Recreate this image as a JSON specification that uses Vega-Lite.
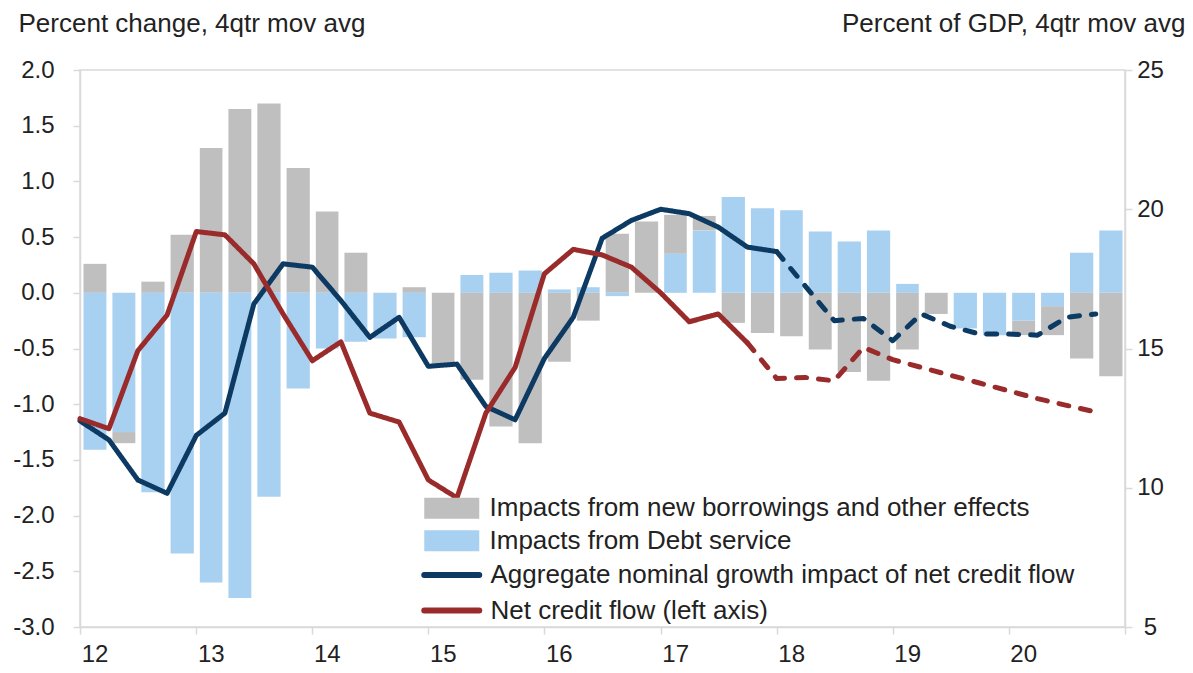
{
  "$schema": "https://vega.github.io/schema/vega-lite/v6.json",
  "width": 1045,
  "height": 557,
  "autosize": "none",
  "padding": {"left": 80, "top": 70, "right": 68, "bottom": 46},
  "background": "white",
  "config": {
    "font": "Liberation Sans",
    "view": {"stroke": "#D9D9D9", "strokeWidth": 1.5},
    "axis": {
      "domainColor": "#D9D9D9", "domainWidth": 1.5,
      "tickColor": "#D9D9D9", "tickWidth": 1.5, "tickSize": 7,
      "grid": false,
      "labelFont": "Liberation Sans", "labelFontSize": 24, "labelColor": "#222222",
      "titleFont": "Liberation Sans", "titleFontSize": 26, "titleFontWeight": "normal", "titleColor": "#222222"
    },
    "legend": {"labelFont": "Liberation Sans", "labelFontSize": 26, "labelColor": "#222222", "labelLimit": 900, "padding": 0, "offset": 0}
  },
  "datasets": {
    "bars": [
      {"d": "2012-01-01", "s": "Impacts from new borrowings and other effects", "v": 0.26},
      {"d": "2012-04-01", "s": "Impacts from new borrowings and other effects", "v": -0.10},
      {"d": "2012-07-01", "s": "Impacts from new borrowings and other effects", "v": 0.10},
      {"d": "2012-10-01", "s": "Impacts from new borrowings and other effects", "v": 0.52},
      {"d": "2013-01-01", "s": "Impacts from new borrowings and other effects", "v": 1.30},
      {"d": "2013-04-01", "s": "Impacts from new borrowings and other effects", "v": 1.65},
      {"d": "2013-07-01", "s": "Impacts from new borrowings and other effects", "v": 1.70},
      {"d": "2013-10-01", "s": "Impacts from new borrowings and other effects", "v": 1.12},
      {"d": "2014-01-01", "s": "Impacts from new borrowings and other effects", "v": 0.73},
      {"d": "2014-04-01", "s": "Impacts from new borrowings and other effects", "v": 0.36},
      {"d": "2014-07-01", "s": "Impacts from new borrowings and other effects", "v": 0.00},
      {"d": "2014-10-01", "s": "Impacts from new borrowings and other effects", "v": 0.05},
      {"d": "2015-01-01", "s": "Impacts from new borrowings and other effects", "v": -0.65},
      {"d": "2015-04-01", "s": "Impacts from new borrowings and other effects", "v": -0.78},
      {"d": "2015-07-01", "s": "Impacts from new borrowings and other effects", "v": -1.20},
      {"d": "2015-10-01", "s": "Impacts from new borrowings and other effects", "v": -1.35},
      {"d": "2016-01-01", "s": "Impacts from new borrowings and other effects", "v": -0.62},
      {"d": "2016-04-01", "s": "Impacts from new borrowings and other effects", "v": -0.25},
      {"d": "2016-07-01", "s": "Impacts from new borrowings and other effects", "v": 0.53},
      {"d": "2016-10-01", "s": "Impacts from new borrowings and other effects", "v": 0.64},
      {"d": "2017-01-01", "s": "Impacts from new borrowings and other effects", "v": 0.35},
      {"d": "2017-04-01", "s": "Impacts from new borrowings and other effects", "v": 0.13},
      {"d": "2017-07-01", "s": "Impacts from new borrowings and other effects", "v": -0.27},
      {"d": "2017-10-01", "s": "Impacts from new borrowings and other effects", "v": -0.36},
      {"d": "2018-01-01", "s": "Impacts from new borrowings and other effects", "v": -0.39},
      {"d": "2018-04-01", "s": "Impacts from new borrowings and other effects", "v": -0.51},
      {"d": "2018-07-01", "s": "Impacts from new borrowings and other effects", "v": -0.71},
      {"d": "2018-10-01", "s": "Impacts from new borrowings and other effects", "v": -0.79},
      {"d": "2019-01-01", "s": "Impacts from new borrowings and other effects", "v": -0.51},
      {"d": "2019-04-01", "s": "Impacts from new borrowings and other effects", "v": -0.19},
      {"d": "2019-07-01", "s": "Impacts from new borrowings and other effects", "v": 0.00},
      {"d": "2019-10-01", "s": "Impacts from new borrowings and other effects", "v": 0.00},
      {"d": "2020-01-01", "s": "Impacts from new borrowings and other effects", "v": -0.13},
      {"d": "2020-04-01", "s": "Impacts from new borrowings and other effects", "v": -0.26},
      {"d": "2020-07-01", "s": "Impacts from new borrowings and other effects", "v": -0.59},
      {"d": "2020-10-01", "s": "Impacts from new borrowings and other effects", "v": -0.75},
      {"d": "2012-01-01", "s": "Impacts from Debt service", "v": -1.41},
      {"d": "2012-04-01", "s": "Impacts from Debt service", "v": -1.25},
      {"d": "2012-07-01", "s": "Impacts from Debt service", "v": -1.79},
      {"d": "2012-10-01", "s": "Impacts from Debt service", "v": -2.34},
      {"d": "2013-01-01", "s": "Impacts from Debt service", "v": -2.60},
      {"d": "2013-04-01", "s": "Impacts from Debt service", "v": -2.74},
      {"d": "2013-07-01", "s": "Impacts from Debt service", "v": -1.83},
      {"d": "2013-10-01", "s": "Impacts from Debt service", "v": -0.86},
      {"d": "2014-01-01", "s": "Impacts from Debt service", "v": -0.50},
      {"d": "2014-04-01", "s": "Impacts from Debt service", "v": -0.44},
      {"d": "2014-07-01", "s": "Impacts from Debt service", "v": -0.41},
      {"d": "2014-10-01", "s": "Impacts from Debt service", "v": -0.40},
      {"d": "2015-01-01", "s": "Impacts from Debt service", "v": 0.00},
      {"d": "2015-04-01", "s": "Impacts from Debt service", "v": 0.16},
      {"d": "2015-07-01", "s": "Impacts from Debt service", "v": 0.18},
      {"d": "2015-10-01", "s": "Impacts from Debt service", "v": 0.20},
      {"d": "2016-01-01", "s": "Impacts from Debt service", "v": 0.03},
      {"d": "2016-04-01", "s": "Impacts from Debt service", "v": 0.05},
      {"d": "2016-07-01", "s": "Impacts from Debt service", "v": -0.03},
      {"d": "2016-10-01", "s": "Impacts from Debt service", "v": 0.00},
      {"d": "2017-01-01", "s": "Impacts from Debt service", "v": 0.35},
      {"d": "2017-04-01", "s": "Impacts from Debt service", "v": 0.56},
      {"d": "2017-07-01", "s": "Impacts from Debt service", "v": 0.86},
      {"d": "2017-10-01", "s": "Impacts from Debt service", "v": 0.76},
      {"d": "2018-01-01", "s": "Impacts from Debt service", "v": 0.74},
      {"d": "2018-04-01", "s": "Impacts from Debt service", "v": 0.55},
      {"d": "2018-07-01", "s": "Impacts from Debt service", "v": 0.46},
      {"d": "2018-10-01", "s": "Impacts from Debt service", "v": 0.56},
      {"d": "2019-01-01", "s": "Impacts from Debt service", "v": 0.08},
      {"d": "2019-04-01", "s": "Impacts from Debt service", "v": 0.00},
      {"d": "2019-07-01", "s": "Impacts from Debt service", "v": -0.32},
      {"d": "2019-10-01", "s": "Impacts from Debt service", "v": -0.38},
      {"d": "2020-01-01", "s": "Impacts from Debt service", "v": -0.25},
      {"d": "2020-04-01", "s": "Impacts from Debt service", "v": -0.12},
      {"d": "2020-07-01", "s": "Impacts from Debt service", "v": 0.36},
      {"d": "2020-10-01", "s": "Impacts from Debt service", "v": 0.56}
    ],
    "lines": [
      {"d": "2012-01-01", "s": "Aggregate nominal growth impact of net credit flow", "p": "actual", "v": -1.15},
      {"d": "2012-04-01", "s": "Aggregate nominal growth impact of net credit flow", "p": "actual", "v": -1.32},
      {"d": "2012-07-01", "s": "Aggregate nominal growth impact of net credit flow", "p": "actual", "v": -1.68},
      {"d": "2012-10-01", "s": "Aggregate nominal growth impact of net credit flow", "p": "actual", "v": -1.80},
      {"d": "2013-01-01", "s": "Aggregate nominal growth impact of net credit flow", "p": "actual", "v": -1.28},
      {"d": "2013-04-01", "s": "Aggregate nominal growth impact of net credit flow", "p": "actual", "v": -1.08},
      {"d": "2013-07-01", "s": "Aggregate nominal growth impact of net credit flow", "p": "actual", "v": -0.10},
      {"d": "2013-10-01", "s": "Aggregate nominal growth impact of net credit flow", "p": "actual", "v": 0.26},
      {"d": "2014-01-01", "s": "Aggregate nominal growth impact of net credit flow", "p": "actual", "v": 0.23},
      {"d": "2014-04-01", "s": "Aggregate nominal growth impact of net credit flow", "p": "actual", "v": -0.07},
      {"d": "2014-07-01", "s": "Aggregate nominal growth impact of net credit flow", "p": "actual", "v": -0.40},
      {"d": "2014-10-01", "s": "Aggregate nominal growth impact of net credit flow", "p": "actual", "v": -0.22},
      {"d": "2015-01-01", "s": "Aggregate nominal growth impact of net credit flow", "p": "actual", "v": -0.66},
      {"d": "2015-04-01", "s": "Aggregate nominal growth impact of net credit flow", "p": "actual", "v": -0.64},
      {"d": "2015-07-01", "s": "Aggregate nominal growth impact of net credit flow", "p": "actual", "v": -1.02},
      {"d": "2015-10-01", "s": "Aggregate nominal growth impact of net credit flow", "p": "actual", "v": -1.14},
      {"d": "2016-01-01", "s": "Aggregate nominal growth impact of net credit flow", "p": "actual", "v": -0.59},
      {"d": "2016-04-01", "s": "Aggregate nominal growth impact of net credit flow", "p": "actual", "v": -0.22},
      {"d": "2016-07-01", "s": "Aggregate nominal growth impact of net credit flow", "p": "actual", "v": 0.49},
      {"d": "2016-10-01", "s": "Aggregate nominal growth impact of net credit flow", "p": "actual", "v": 0.65},
      {"d": "2017-01-01", "s": "Aggregate nominal growth impact of net credit flow", "p": "actual", "v": 0.75},
      {"d": "2017-04-01", "s": "Aggregate nominal growth impact of net credit flow", "p": "actual", "v": 0.71},
      {"d": "2017-07-01", "s": "Aggregate nominal growth impact of net credit flow", "p": "actual", "v": 0.59},
      {"d": "2017-10-01", "s": "Aggregate nominal growth impact of net credit flow", "p": "actual", "v": 0.41},
      {"d": "2018-01-01", "s": "Aggregate nominal growth impact of net credit flow", "p": "actual", "v": 0.37},
      {"d": "2018-01-01", "s": "Aggregate nominal growth impact of net credit flow", "p": "projection", "v": 0.37},
      {"d": "2018-04-01", "s": "Aggregate nominal growth impact of net credit flow", "p": "projection", "v": 0.06},
      {"d": "2018-07-01", "s": "Aggregate nominal growth impact of net credit flow", "p": "projection", "v": -0.25},
      {"d": "2018-10-01", "s": "Aggregate nominal growth impact of net credit flow", "p": "projection", "v": -0.23},
      {"d": "2019-01-01", "s": "Aggregate nominal growth impact of net credit flow", "p": "projection", "v": -0.43},
      {"d": "2019-04-01", "s": "Aggregate nominal growth impact of net credit flow", "p": "projection", "v": -0.19},
      {"d": "2019-07-01", "s": "Aggregate nominal growth impact of net credit flow", "p": "projection", "v": -0.30},
      {"d": "2019-10-01", "s": "Aggregate nominal growth impact of net credit flow", "p": "projection", "v": -0.37},
      {"d": "2020-01-01", "s": "Aggregate nominal growth impact of net credit flow", "p": "projection", "v": -0.37},
      {"d": "2020-04-01", "s": "Aggregate nominal growth impact of net credit flow", "p": "projection", "v": -0.38},
      {"d": "2020-07-01", "s": "Aggregate nominal growth impact of net credit flow", "p": "projection", "v": -0.22},
      {"d": "2020-10-01", "s": "Aggregate nominal growth impact of net credit flow", "p": "projection", "v": -0.19},
      {"d": "2012-01-01", "s": "Net credit flow (left axis)", "p": "actual", "v": -1.13},
      {"d": "2012-04-01", "s": "Net credit flow (left axis)", "p": "actual", "v": -1.22},
      {"d": "2012-07-01", "s": "Net credit flow (left axis)", "p": "actual", "v": -0.52},
      {"d": "2012-10-01", "s": "Net credit flow (left axis)", "p": "actual", "v": -0.20},
      {"d": "2013-01-01", "s": "Net credit flow (left axis)", "p": "actual", "v": 0.55},
      {"d": "2013-04-01", "s": "Net credit flow (left axis)", "p": "actual", "v": 0.52},
      {"d": "2013-07-01", "s": "Net credit flow (left axis)", "p": "actual", "v": 0.26},
      {"d": "2013-10-01", "s": "Net credit flow (left axis)", "p": "actual", "v": -0.19},
      {"d": "2014-01-01", "s": "Net credit flow (left axis)", "p": "actual", "v": -0.61},
      {"d": "2014-04-01", "s": "Net credit flow (left axis)", "p": "actual", "v": -0.44},
      {"d": "2014-07-01", "s": "Net credit flow (left axis)", "p": "actual", "v": -1.08},
      {"d": "2014-10-01", "s": "Net credit flow (left axis)", "p": "actual", "v": -1.16},
      {"d": "2015-01-01", "s": "Net credit flow (left axis)", "p": "actual", "v": -1.68},
      {"d": "2015-04-01", "s": "Net credit flow (left axis)", "p": "actual", "v": -1.84},
      {"d": "2015-07-01", "s": "Net credit flow (left axis)", "p": "actual", "v": -1.08},
      {"d": "2015-10-01", "s": "Net credit flow (left axis)", "p": "actual", "v": -0.67},
      {"d": "2016-01-01", "s": "Net credit flow (left axis)", "p": "actual", "v": 0.17},
      {"d": "2016-04-01", "s": "Net credit flow (left axis)", "p": "actual", "v": 0.39},
      {"d": "2016-07-01", "s": "Net credit flow (left axis)", "p": "actual", "v": 0.34},
      {"d": "2016-10-01", "s": "Net credit flow (left axis)", "p": "actual", "v": 0.23},
      {"d": "2017-01-01", "s": "Net credit flow (left axis)", "p": "actual", "v": 0.00},
      {"d": "2017-04-01", "s": "Net credit flow (left axis)", "p": "actual", "v": -0.26},
      {"d": "2017-07-01", "s": "Net credit flow (left axis)", "p": "actual", "v": -0.19},
      {"d": "2017-10-01", "s": "Net credit flow (left axis)", "p": "actual", "v": -0.45},
      {"d": "2017-10-01", "s": "Net credit flow (left axis)", "p": "projection", "v": -0.45},
      {"d": "2018-01-01", "s": "Net credit flow (left axis)", "p": "projection", "v": -0.77},
      {"d": "2018-04-01", "s": "Net credit flow (left axis)", "p": "projection", "v": -0.76},
      {"d": "2018-07-01", "s": "Net credit flow (left axis)", "p": "projection", "v": -0.79},
      {"d": "2018-10-01", "s": "Net credit flow (left axis)", "p": "projection", "v": -0.49},
      {"d": "2019-01-01", "s": "Net credit flow (left axis)", "p": "projection", "v": -0.60},
      {"d": "2019-04-01", "s": "Net credit flow (left axis)", "p": "projection", "v": -0.67},
      {"d": "2019-07-01", "s": "Net credit flow (left axis)", "p": "projection", "v": -0.74},
      {"d": "2019-10-01", "s": "Net credit flow (left axis)", "p": "projection", "v": -0.81},
      {"d": "2020-01-01", "s": "Net credit flow (left axis)", "p": "projection", "v": -0.88},
      {"d": "2020-04-01", "s": "Net credit flow (left axis)", "p": "projection", "v": -0.95},
      {"d": "2020-07-01", "s": "Net credit flow (left axis)", "p": "projection", "v": -1.01},
      {"d": "2020-10-01", "s": "Net credit flow (left axis)", "p": "projection", "v": -1.07}
    ],
    "rightaxis": [{"r": 5}, {"r": 25}]
  },
  "layer": [
    {
      "layer": [
        {
          "data": {"name": "bars"},
          "mark": {"type": "bar", "binSpacing": 6},
          "encoding": {
            "x": {
              "field": "d", "timeUnit": "utcyearquarter", "type": "temporal",
              "scale": {"type": "utc", "domain": [{"year": 2012, "month": 1, "date": 1, "utc": true}, {"year": 2021, "month": 1, "date": 1, "utc": true}]},
              "axis": {
                "title": null,
                "values": [
                  {"year": 2012, "month": 1, "date": 1, "utc": true},
                  {"year": 2013, "month": 1, "date": 1, "utc": true},
                  {"year": 2014, "month": 1, "date": 1, "utc": true},
                  {"year": 2015, "month": 1, "date": 1, "utc": true},
                  {"year": 2016, "month": 1, "date": 1, "utc": true},
                  {"year": 2017, "month": 1, "date": 1, "utc": true},
                  {"year": 2018, "month": 1, "date": 1, "utc": true},
                  {"year": 2019, "month": 1, "date": 1, "utc": true},
                  {"year": 2020, "month": 1, "date": 1, "utc": true},
                  {"year": 2021, "month": 1, "date": 1, "utc": true}
                ],
                "labelExpr": "utcFormat(datum.value, '%Y') == '2021' ? '' : utcFormat(datum.value, '%y')",
                "labelOffset": 14.5,
                "labelPadding": 8,
                "labelFlush": false,
                "labelOverlap": false
              }
            },
            "y": {
              "field": "v", "type": "quantitative", "stack": "zero",
              "scale": {"domain": [-3, 2], "nice": false},
              "axis": {
                "orient": "left",
                "values": [-3, -2.5, -2, -1.5, -1, -0.5, 0, 0.5, 1, 1.5, 2],
                "labelExpr": "(datum.value < 0 ? '-' : '') + format(abs(datum.value), '.1f')",
                "labelPadding": 19,
                "title": "Percent change, 4qtr mov avg",
                "titleAngle": 0, "titleAlign": "left", "titleBaseline": "alphabetic",
                "titleX": -62, "titleY": -39
              }
            },
            "fill": {
              "field": "s", "type": "nominal",
              "scale": {"domain": ["Impacts from new borrowings and other effects", "Impacts from Debt service"], "range": ["#BFBFBF", "#A8D0F0"]},
              "legend": {
                "orient": "none", "legendX": 357.75, "legendY": 424.25, "title": null,
                "symbolType": "M-2,-0.76H2V0.76H-2Z", "symbolSize": 756.25,
                "symbolStrokeWidth": 0, "labelOffset": 23.75, "rowPadding": 5.5
              }
            },
            "order": {"field": "s", "sort": "ascending"}
          }
        },
        {
          "data": {"name": "lines"},
          "mark": {"type": "line", "strokeWidth": 5, "strokeCap": "round", "strokeJoin": "round", "timeUnitBandPosition": 0.5},
          "encoding": {
            "x": {"field": "d", "timeUnit": "utcyearquarter", "type": "temporal"},
            "y": {"field": "v", "type": "quantitative"},
            "stroke": {
              "field": "s", "type": "nominal",
              "scale": {"domain": ["Aggregate nominal growth impact of net credit flow", "Net credit flow (left axis)"], "range": ["#0C3A63", "#9A2B2B"]},
              "legend": {
                "orient": "none", "legendX": 354.75, "legendY": 488, "title": null,
                "symbolType": "M-2,0H2", "symbolSize": 756.25, "symbolStrokeWidth": 6,
                "labelOffset": 21.75, "rowPadding": 5.5,
                "encode": {"symbols": {"update": {"strokeCap": {"value": "round"}}}}
              }
            },
            "strokeDash": {
              "field": "p", "type": "nominal",
              "scale": {"domain": ["actual", "projection"], "range": [[1, 0], [10, 12]]},
              "legend": null
            }
          }
        }
      ]
    },
    {
      "data": {"name": "rightaxis"},
      "mark": {"type": "point", "opacity": 0},
      "encoding": {
        "y": {
          "field": "r", "type": "quantitative",
          "scale": {"domain": [5, 25], "nice": false},
          "axis": {
            "orient": "right",
            "values": [5, 10, 15, 20, 25],
            "labelAlign": "center", "labelPadding": 18,
            "title": "Percent of GDP, 4qtr mov avg",
            "titleAngle": 0, "titleAlign": "right", "titleBaseline": "alphabetic",
            "titleX": 60, "titleY": -39
          }
        }
      }
    }
  ],
  "resolve": {"scale": {"y": "independent"}}
}
